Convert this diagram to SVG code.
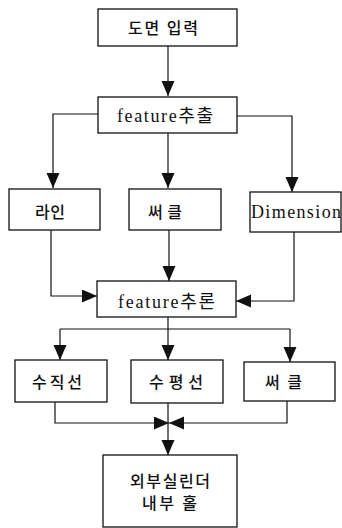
<svg xmlns="http://www.w3.org/2000/svg" width="342" height="528" viewBox="0 0 342 528">
<style>
.box{fill:#fff;stroke:#111;stroke-width:1.3}
.ln{fill:none;stroke:#111;stroke-width:1.2}
.t{font-family:"Liberation Serif","Noto Sans CJK KR",serif;font-size:18px;fill:#111}
.k{font-family:"Noto Sans CJK KR",sans-serif;font-size:16px;font-weight:500;fill:#111}
</style>
<defs>
<marker id="ah" markerUnits="userSpaceOnUse" markerWidth="16" markerHeight="14" refX="15" refY="6.5" orient="auto">
<path d="M0,0 L15,6.5 L0,13 z" fill="#111"/>
</marker>
</defs>
<g id="connectors">
<path class="ln" d="M168,46 V96" marker-end="url(#ah)"/>
<path class="ln" d="M98,114 H53 V188" marker-end="url(#ah)"/>
<path class="ln" d="M168,133 V188" marker-end="url(#ah)"/>
<path class="ln" d="M237,116 H292 V192" marker-end="url(#ah)"/>
<path class="ln" d="M51,230 V296 H97" marker-end="url(#ah)"/>
<path class="ln" d="M169,230 V281" marker-end="url(#ah)"/>
<path class="ln" d="M294,232 V301 H236" marker-end="url(#ah)"/>
<path class="ln" d="M168,317 V329 M60,329 H290"/>
<path class="ln" d="M60,329 V360" marker-end="url(#ah)"/>
<path class="ln" d="M168,329 V360" marker-end="url(#ah)"/>
<path class="ln" d="M290,329 V362" marker-end="url(#ah)"/>
<path class="ln" d="M55,402 V423 H169" marker-end="url(#ah)"/>
<path class="ln" d="M287,401 V423 H169" marker-end="url(#ah)"/>
<path class="ln" d="M168,403 V455" marker-end="url(#ah)"/>
</g>
<g id="n1"><rect class="box" x="98" y="9" width="139" height="37"/><text class="k" x="128" y="34" textLength="70" lengthAdjust="spacing">도면 입력</text></g>
<g id="n2"><rect class="box" x="98" y="97" width="139" height="36"/><text class="t" x="117" y="122" textLength="96" lengthAdjust="spacing">feature추출</text></g>
<g id="n3"><rect class="box" x="9" y="189" width="91" height="41"/><text class="k" x="35" y="218" textLength="30" lengthAdjust="spacing">라인</text></g>
<g id="n4"><rect class="box" x="129" y="189" width="92" height="41"/><text class="k" x="148" y="218" textLength="34" lengthAdjust="spacing">써클</text></g>
<g id="n5"><rect class="box" x="250" y="192" width="91" height="40"/><text class="t" x="251" y="218" textLength="90" lengthAdjust="spacing">Dimension</text></g>
<g id="n6"><rect class="box" x="97" y="281" width="139" height="36"/><text class="t" x="118" y="308" textLength="97" lengthAdjust="spacing">feature추론</text></g>
<g id="n7"><rect class="box" x="15" y="360" width="92" height="42"/><text class="k" x="32" y="388" textLength="50" lengthAdjust="spacing">수직선</text></g>
<g id="n8"><rect class="box" x="131" y="360" width="92" height="43"/><text class="k" x="149" y="388" textLength="54" lengthAdjust="spacing">수평선</text></g>
<g id="n9"><rect class="box" x="244" y="362" width="91" height="39"/><text class="k" x="265" y="388" textLength="37" lengthAdjust="spacing">써클</text></g>
<g id="n10"><rect class="box" x="103" y="455" width="134" height="72"/><text class="k" x="130" y="487" textLength="80" lengthAdjust="spacing">외부실린더</text><text class="k" x="142" y="509" textLength="55" lengthAdjust="spacing">내부 홀</text></g>
</svg>
